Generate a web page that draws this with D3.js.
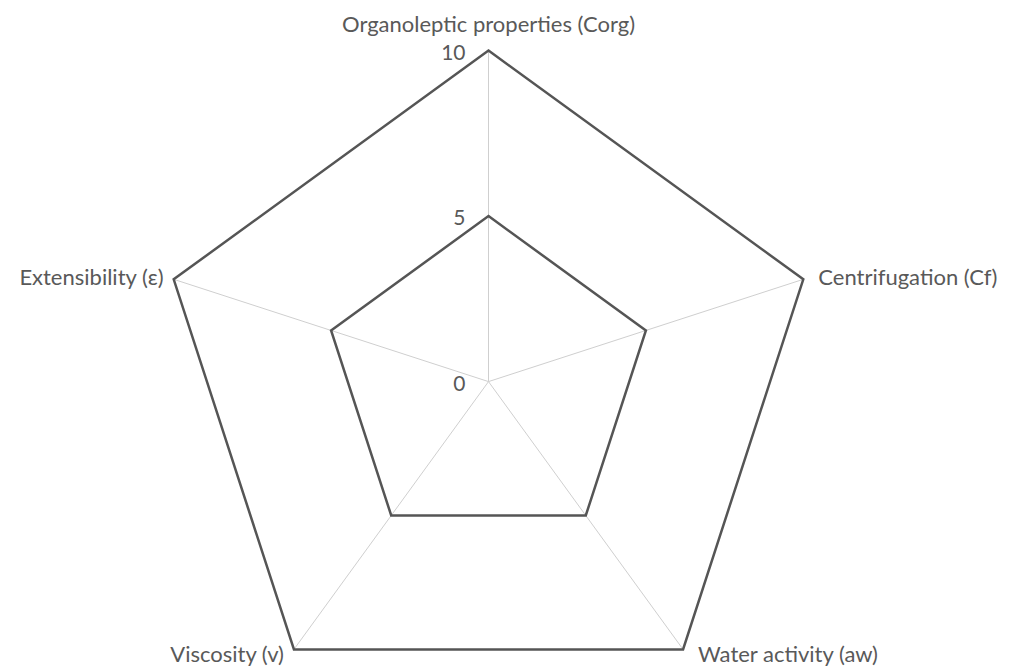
<!DOCTYPE html>
<html>
<head>
<meta charset="utf-8">
<script src="https://cdn.jsdelivr.net/npm/d3@7"></script>
<style>
	html, body { margin: 0; padding: 0; background: #fff; }
	svg text { font-family: Lato, 'Open Sans', sans-serif; fill: #595959; }
</style>
</head>
<body>
<div id="chart"></div>
<script>
// axes of the radar, clockwise from the top
const axes = [
	'Organoleptic properties (Corg)',
	'Centrifugation (Cf)',
	'Water activity (aw)',
	'Viscosity (v)',
	'Extensibility (ε)',
]
// rings drawn as dark pentagons
const levels = [5, 10]
// radial tick labels
const ticks = [0, 5, 10]

const width = 1016
const height = 669
const cx = 488.5
const cy = 381.6

const r = d3.scaleLinear().domain([0, 10]).range([0, 331])
const angle = d3
	.scalePoint()
	.domain(axes)
	.range([0, (2 * Math.PI * (axes.length - 1)) / axes.length])

// angle 0 = straight up, clockwise
const pt = (a, v) => [
	cx + r(v) * Math.sin(angle(a)),
	cy - r(v) * Math.cos(angle(a)),
]

const svg = d3
	.select('#chart')
	.append('svg')
	.attr('width', width)
	.attr('height', height)

// spokes
svg.append('g')
	.selectAll('line')
	.data(axes)
	.join('line')
	.attr('x1', cx)
	.attr('y1', cy)
	.attr('x2', (d) => pt(d, 10)[0])
	.attr('y2', (d) => pt(d, 10)[1])
	.attr('stroke', '#cfcfcf')
	.attr('stroke-width', 1)

// pentagons
const line = d3.line().curve(d3.curveLinearClosed)
svg.append('g')
	.selectAll('path')
	.data(levels)
	.join('path')
	.attr('d', (v) => line(axes.map((a) => pt(a, v))))
	.attr('fill', 'none')
	.attr('stroke', '#555')
	.attr('stroke-width', 2.5)
	.attr('stroke-linejoin', 'miter')

// tick labels
svg.append('g')
	.selectAll('text')
	.data(ticks)
	.join('text')
	.attr('x', cx - 23)
	.attr('y', (d) => cy - r(d) + 9)
	.attr('text-anchor', 'end')
	.attr('font-size', 21)
	.text((d) => d)

// axis labels
svg.append('g')
	.selectAll('text')
	.data(axes)
	.join('text')
	.attr('x', (d) => {
		const s = Math.sin(angle(d))
		return pt(d, 10)[0] + (Math.abs(s) < 0.1 ? 0 : s > 0 ? 15 : -10)
	})
	.attr('y', (d) => {
		const c = Math.cos(angle(d))
		return pt(d, 10)[1] + (c > 0.9 ? -19 : c > 0 ? 6 : 13)
	})
	.attr('text-anchor', (d) => {
		const s = Math.sin(angle(d))
		return Math.abs(s) < 0.1 ? 'middle' : s > 0 ? 'start' : 'end'
	})
	.attr('font-size', 22)
	.text((d) => d)
</script>
</body>
</html>
